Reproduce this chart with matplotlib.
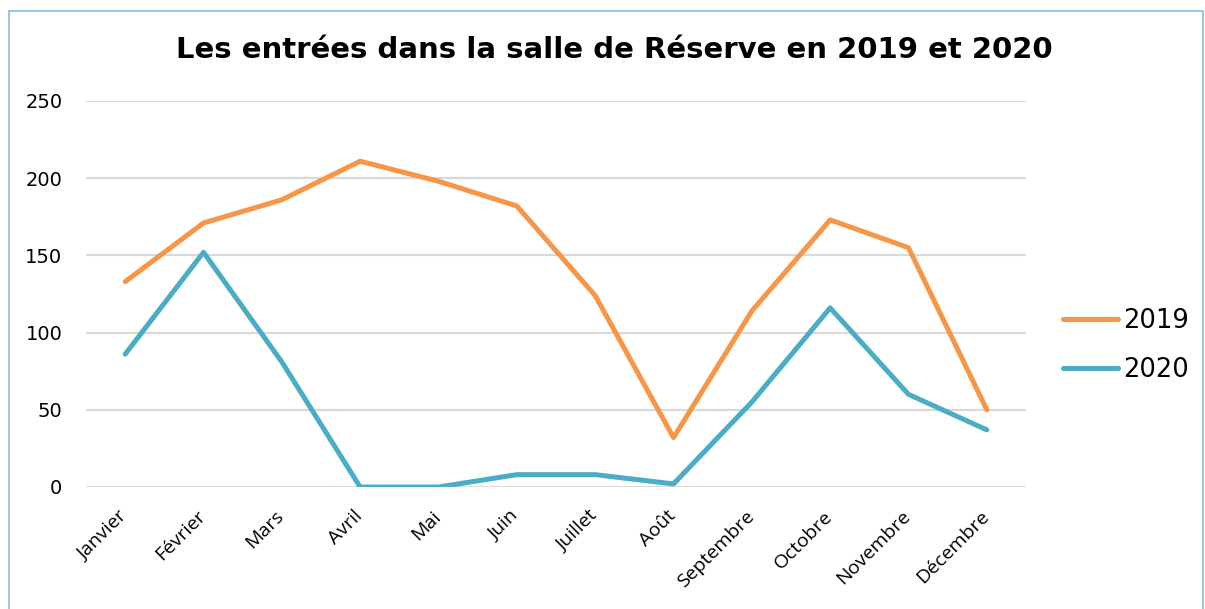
import matplotlib
matplotlib.use("Agg")
import matplotlib.pyplot as plt
import matplotlib.transforms as mtransforms
from matplotlib.patches import Rectangle

months = ["Janvier", "Février", "Mars", "Avril", "Mai", "Juin", "Juillet",
          "Août", "Septembre", "Octobre", "Novembre", "Décembre"]
values_2019 = [133, 171, 186, 211, 198, 182, 124, 32, 114, 173, 155, 50]
values_2020 = [86, 152, 81, 0, 0, 8, 8, 2, 55, 116, 60, 37]
y_ticks = [0, 50, 100, 150, 200, 250]
title = "Les entrées dans la salle de Réserve en 2019 et 2020"

fig = plt.figure(figsize=(12.05, 6.09), dpi=100)
ax = fig.add_axes([86/1205, 1-487/609, 940/1205, 386/609])

x = list(range(len(months)))
ax.plot(x, values_2019, color="#F79646", lw=3.6, solid_capstyle="round",
        solid_joinstyle="round", label="2019", zorder=3)
ax.plot(x, values_2020, color="#4BACC6", lw=3.6, solid_capstyle="round",
        solid_joinstyle="round", label="2020", zorder=3)

ax.set_xlim(-0.5, len(months) - 0.5)
ax.set_ylim(0, 250)
ax.set_yticks(y_ticks)
ax.set_yticklabels([str(v) for v in y_ticks], fontsize=14, family="DejaVu Sans")
ax.set_xticks(x)
ax.set_xticklabels(months, rotation=45, ha="right", rotation_mode="anchor",
                   fontsize=14, family="Open Sans")
ax.tick_params(axis="y", length=0, pad=17)
ax.tick_params(axis="x", length=0, pad=8)
offset = mtransforms.ScaledTranslation(-7/100, -9/100, fig.dpi_scale_trans)
for lbl in ax.get_xticklabels():
    lbl.set_transform(lbl.get_transform() + offset)
for s in ax.spines.values():
    s.set_visible(False)
ax.grid(axis="y", color="#D9D9D9", lw=1.5, zorder=0)
ax.set_axisbelow(True)

fig.text(614/1205, 1-50/609, title, ha="center", va="center",
         fontsize=21, fontweight="bold", family="DejaVu Sans")

leg = fig.legend(loc="center left", bbox_to_anchor=(1063/1205, 1-345.5/609),
                 frameon=False, fontsize=18.5, handlelength=2.15,
                 handletextpad=0.2, labelspacing=0.88,
                 borderpad=0, borderaxespad=0)

fig.patches.append(Rectangle((9/1205, -0.1), 1194/1205, 1.1 - 11/609,
                             transform=fig.transFigure, fill=False,
                             edgecolor="#7FBFDC", lw=1.2))

fig.savefig("out.png", dpi=100)
